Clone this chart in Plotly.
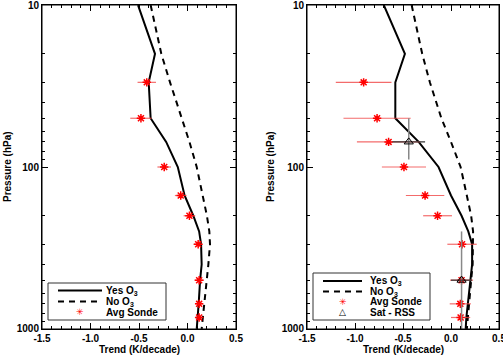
import plotly.graph_objects as go

# ---------------- data ----------------
p_model = [10, 20, 30, 50, 70, 100, 150, 200, 250, 300, 400, 500, 700, 850, 1000]

left_yes_o3 = [-0.51, -0.335, -0.40, -0.38, -0.22, -0.10, -0.03, 0.06, 0.12, 0.14, 0.146, 0.13, 0.115, 0.10, 0.095]
left_no_o3 = [-0.38, -0.27, -0.18, -0.06, 0.02, 0.095, 0.16, 0.20, 0.225, 0.232, 0.215, 0.198, 0.17, 0.155, 0.146]

right_yes_o3 = [-0.70, -0.48, -0.58, -0.58, -0.337, -0.13, 0.0, 0.11, 0.18, 0.22, 0.22, 0.20, 0.17, 0.16, 0.153]
right_no_o3 = [-0.41, -0.30, -0.22, -0.10, 0.0, 0.10, 0.165, 0.21, 0.23, 0.23, 0.225, 0.21, 0.19, 0.175, 0.165]

left_sonde_p = [30, 50, 100, 150, 200, 300, 500, 700, 850]
left_sonde = [-0.42, -0.48, -0.24, -0.07, 0.02, 0.11, 0.12, 0.12, 0.12]
left_sonde_err = [0.095, 0.11, 0.07, 0.06, 0.06, 0.05, 0.05, 0.04, 0.04]

right_sonde_p = [30, 50, 70, 100, 150, 200, 300, 500, 700, 850]
right_sonde = [-0.91, -0.77, -0.65, -0.49, -0.27, -0.14, 0.115, 0.11, 0.097, 0.10]
right_sonde_err = [0.29, 0.35, 0.33, 0.23, 0.20, 0.15, 0.153, 0.12, 0.11, 0.10]

sat_p = [70, 500]
sat_trend = [-0.44, 0.11]
sat_xerr = [0.17, 0.11]
sat_p_minus = [20, 250]
sat_p_plus = [20, 500]

x_ticks = [-1.5, -1.0, -0.5, 0.0, 0.5]
x_tick_text = ["-1.5", "-1.0", "-0.5", "0.0", "0.5"]
y_ticks = [10, 100, 1000]
y_tick_text = ["10", "100", "1000"]

legend_left = ["Yes O<sub>3</sub>", "No O<sub>3</sub>", "Avg Sonde"]
legend_right = ["Yes O<sub>3</sub>", "No O<sub>3</sub>", "Avg Sonde", "Sat - RSS"]

# ---------------- figure ----------------
W, H = 503, 355
FONT = "Liberation Sans, Arial, sans-serif"
fig = go.Figure()

def add_panel(xa, ya, yes, no, sp, sv, se):
    fig.add_trace(go.Scatter(x=yes, y=p_model, mode="lines", name="Yes O3",
                             line=dict(color="black", width=2), xaxis=xa, yaxis=ya))
    fig.add_trace(go.Scatter(x=no, y=p_model, mode="lines", name="No O3",
                             line=dict(color="black", width=2, dash="6px,5px"), xaxis=xa, yaxis=ya))
    fig.add_trace(go.Scatter(x=sv, y=sp, mode="markers", name="Avg Sonde",
                             marker=dict(symbol="asterisk-open", size=7, color="red",
                                         line=dict(color="red", width=1.5)),
                             error_x=dict(type="data", array=se, color="rgba(240,70,70,0.8)",
                                          thickness=1.2, width=0),
                             xaxis=xa, yaxis=ya))

add_panel("x", "y", left_yes_o3, left_no_o3, left_sonde_p, left_sonde, left_sonde_err)
add_panel("x2", "y2", right_yes_o3, right_no_o3, right_sonde_p, right_sonde, right_sonde_err)

fig.add_trace(go.Scatter(x=sat_trend, y=sat_p, mode="markers", name="Sat - RSS",
                         marker=dict(symbol="triangle-up-open", size=8, color="black",
                                     line=dict(color="black", width=1)),
                         error_x=dict(type="data", array=sat_xerr, color="#333333", thickness=1.2, width=0),
                         error_y=dict(type="data", symmetric=False, array=sat_p_plus,
                                      arrayminus=sat_p_minus, color="#888888", thickness=1.5, width=0),
                         xaxis="x2", yaxis="y2"))

tickfont = dict(family=FONT, size=10, color="black", weight="bold")

def xaxis(domain, anchor):
    return dict(domain=domain, anchor=anchor, range=[-1.5, 0.5], tickvals=x_ticks, ticktext=x_tick_text,
                ticks="inside", ticklen=6, tickcolor="black", showline=True, linecolor="black",
                linewidth=1, mirror="ticks", showgrid=False, zeroline=False, tickfont=tickfont,
                automargin=False, ticklabeloverflow="allow",
                minor=dict(ticks="inside", dtick=0.1, ticklen=3, tickcolor="black", showgrid=False))

def yaxis(domain, anchor):
    return dict(domain=domain, anchor=anchor, type="log", range=[3.0005, 0.9995], tickvals=y_ticks,
                ticktext=y_tick_text, ticks="inside", ticklen=6, tickcolor="black", showline=True,
                linecolor="black", linewidth=1, mirror="ticks", showgrid=False, zeroline=False,
                tickfont=tickfont, automargin=False, ticklabeloverflow="allow",
                minor=dict(ticks="inside", ticklen=3, tickcolor="black", showgrid=False,
                           tickvals=[20, 30, 40, 50, 60, 70, 80, 90, 200, 300, 400, 500, 600, 700, 800, 900]))

ydom = [1 - 329 / H, 1 - 5 / H]
fig.update_layout(
    width=W, height=H, margin=dict(l=0, r=0, t=0, b=0, autoexpand=False),
    paper_bgcolor="white", plot_bgcolor="white",
    font=dict(family=FONT, size=10, color="black"),
    xaxis=xaxis([42 / W, 236 / W], "y"), yaxis=yaxis(ydom, "x"),
    xaxis2=xaxis([307 / W, 499 / W], "y2"), yaxis2=yaxis(ydom, "x2"),
    showlegend=False,
)

# plot frames
for xr, yr in [("x domain", "y domain"), ("x2 domain", "y2 domain")]:
    fig.add_shape(type="rect", xref=xr, yref=yr, x0=0, x1=1, y0=0, y1=1,
                  line=dict(color="black", width=1), layer="above")

def px(x):
    return x / W

def py(y):
    return 1 - y / H

title_font = dict(family=FONT, size=10, color="black", weight="bold")
for xc in [139, 403]:
    fig.add_annotation(text="Trend (K/decade)", x=px(xc), y=py(349), xref="paper", yref="paper",
                       showarrow=False, font=title_font, xanchor="center", yanchor="middle")
for xc in [7, 270]:
    fig.add_annotation(text="Pressure (hPa)", x=px(xc), y=py(167), xref="paper", yref="paper",
                       showarrow=False, font=title_font, textangle=-90, xanchor="center", yanchor="middle")

# ---------------- manual legends (compact, like the original) ----------------
def draw_legend(box, rows, line_x0, line_x1, text_x, labels):
    x0, y0, x1, y1 = box
    fig.add_shape(type="rect", xref="paper", yref="paper", x0=px(x0), x1=px(x1), y0=py(y1), y1=py(y0),
                  line=dict(color="#333333", width=1), fillcolor="white", layer="above")
    styles = ["solid", "dash", "sonde", "sat"]
    for i, lab in enumerate(labels):
        yy = rows[i]
        st = styles[i]
        if st in ("solid", "dash"):
            fig.add_shape(type="line", xref="paper", yref="paper", x0=px(line_x0), x1=px(line_x1),
                          y0=py(yy), y1=py(yy), layer="above",
                          line=dict(color="black", width=2, dash="solid" if st == "solid" else "6px,5px"))
        elif st == "sonde":
            fig.add_annotation(text="✳", x=px((line_x0 + line_x1) / 2), y=py(yy), xref="paper", yref="paper",
                               showarrow=False, font=dict(family="DejaVu Sans", size=9, color="red"),
                               xanchor="center", yanchor="middle")
        else:
            fig.add_annotation(text="△", x=px((line_x0 + line_x1) / 2), y=py(yy), xref="paper", yref="paper",
                               showarrow=False, font=dict(family="DejaVu Sans", size=9, color="black"),
                               xanchor="center", yanchor="middle")
        fig.add_annotation(text=lab, x=px(text_x), y=py(yy), xref="paper", yref="paper", showarrow=False,
                           font=dict(family=FONT, size=10, color="black", weight="bold"),
                           xanchor="left", yanchor="middle")

draw_legend((48, 283, 166, 320), [290.5, 301.5, 312], 58, 102, 104, legend_left)
draw_legend((313, 273, 430, 320), [281, 291.5, 301.5, 312], 323, 362, 368, legend_right)

fig.write_html("out.html", post_script="document.body.style.margin='0';")
